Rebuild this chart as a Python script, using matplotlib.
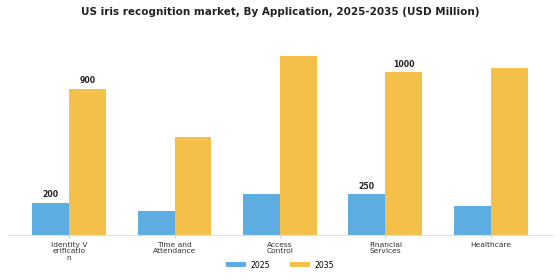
import numpy as np
import matplotlib.pyplot as plt

categories = ["Identity V\nerificatio\nn", "Time and\nAttendance", "Access\nControl", "Financial\nServices", "Healthcare"]
vals_2025 = [200, 150, 250, 250, 180]
vals_2035 = [900, 600, 1100, 1000, 1030]
# only some bars carry value labels in the original
labels_2025 = ["200", "", "", "250", ""]
labels_2035 = ["900", "", "", "1000", ""]

fig = plt.figure(figsize=(5.6, 2.8), dpi=100)
ax = fig.add_axes([0.0143, 0.1607, 0.973, 0.6965])

x = np.arange(len(categories))
w = 0.35
b1 = ax.bar(x - w/2, vals_2025, w, color="#5DADE2", label="2025")
b2 = ax.bar(x + w/2, vals_2035, w, color="#F5C04A", label="2035")

for bar, t in zip(b1, labels_2025):
    if t:
        ax.text(bar.get_x() + bar.get_width()/2, bar.get_height() + 22, t,
                ha="center", va="bottom", fontsize=5.6, fontweight="bold", color="#222222")
for bar, t in zip(b2, labels_2035):
    if t:
        ax.text(bar.get_x() + bar.get_width()/2, bar.get_height() + 22, t,
                ha="center", va="bottom", fontsize=5.6, fontweight="bold", color="#222222")

ax.set_xlim(-0.58, 4.59)
ax.set_ylim(0, 1200)
ax.set_xticks(x)
ax.set_xticklabels(categories, fontsize=5.4, color="#333333", linespacing=1.1)
ax.tick_params(axis="x", length=2, width=0.5, color="#bbbbbb", pad=3)
ax.set_yticks([])
for s in ["top", "right", "left"]:
    ax.spines[s].set_visible(False)
ax.spines["bottom"].set_color("#e0e0e0")

fig.suptitle("US iris recognition market, By Application, 2025-2035 (USD Million)",
             fontsize=7.5, fontweight="bold", y=0.975, color="#222222")
fig.legend(loc="center", ncol=2, frameon=False, fontsize=5.6,
           bbox_to_anchor=(0.5, 0.053), handlelength=2.6, handleheight=0.6,
           columnspacing=2.5, handletextpad=0.6)

fig.savefig("out.png", dpi=100, facecolor="white")
